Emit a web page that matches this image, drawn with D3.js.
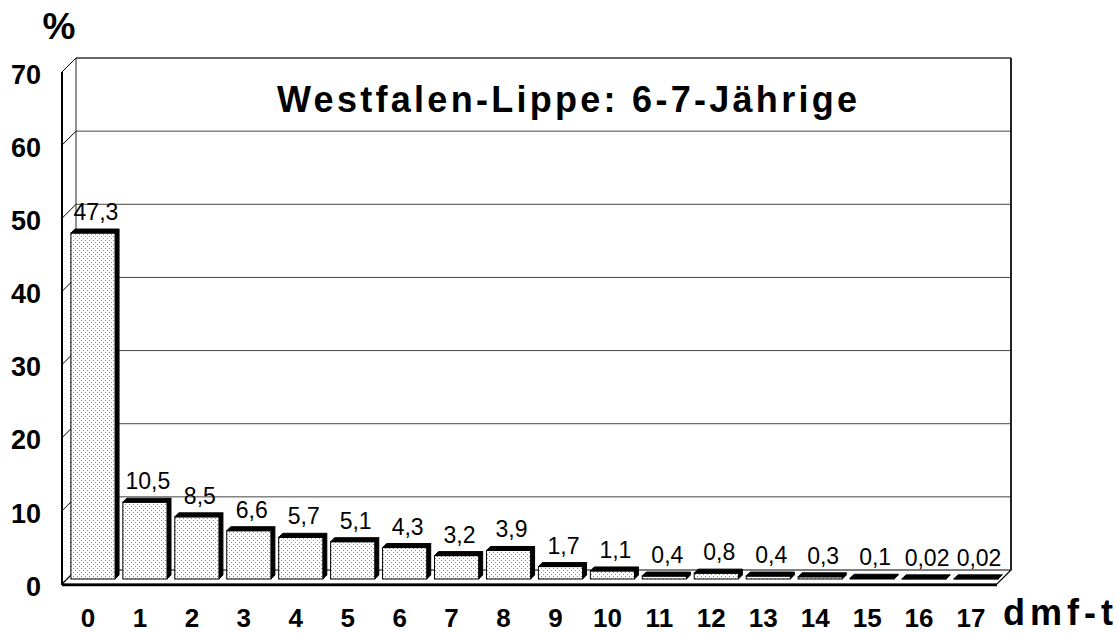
<!DOCTYPE html>
<html>
<head>
<meta charset="utf-8">
<script src="https://cdn.jsdelivr.net/npm/d3@7"></script>
<style>
  html, body { margin: 0; padding: 0; background: #fff; }
  svg { display: block; font-family: "Liberation Sans", Arial, sans-serif; }
</style>
</head>
<body>
<svg id="chart" width="1118" height="634"></svg>
<script>
const categories = ["0","1","2","3","4","5","6","7","8","9","10","11","12","13","14","15","16","17"];
const values = [47.3, 10.5, 8.5, 6.6, 5.7, 5.1, 4.3, 3.2, 3.9, 1.7, 1.1, 0.4, 0.8, 0.4, 0.3, 0.1, 0.02, 0.02];
const yTicks = [0, 10, 20, 30, 40, 50, 60, 70];
const title = "Westfalen-Lippe: 6-7-Jährige";
const yUnit = "%";
const xTitle = "dmf-t";

const svg = d3.select("#chart");

// geometry
const left = 62, right = 997;
const ddx = 14, ddy = -14;           // depth of the wall/floor
const barOff = 5;                    // bars sit slightly behind the front plane
const barDepth = 4;

const x = d3.scaleBand().domain(categories).range([left, right]).padding(0);
const y = d3.scaleLinear().domain([0, 70]).range([584, 72]);

const defs = svg.append("defs");
const pat = defs.append("pattern").attr("id", "dots")
  .attr("patternUnits", "userSpaceOnUse").attr("width", 4).attr("height", 4);
pat.append("rect").attr("width", 4).attr("height", 4).attr("fill", "#fff");
pat.append("rect").attr("x", 1).attr("y", 0).attr("width", 1).attr("height", 1).attr("fill", "#8a8a8a");
pat.append("rect").attr("x", 3).attr("y", 2).attr("width", 1).attr("height", 1).attr("fill", "#8a8a8a");

const g = svg.append("g");

// floor
const y0 = y(0);
g.append("polygon")
  .attr("points", [[left, y0], [left + ddx, y0 + ddy], [right + ddx, y0 + ddy], [right, y0]].map(p => p.join(",")).join(" "))
  .attr("fill", "#fff").attr("stroke", "#000").attr("stroke-width", 1.2);
g.append("line").attr("x1", left).attr("x2", right).attr("y1", y0 + 1).attr("y2", y0 + 1)
  .attr("stroke", "#000").attr("stroke-width", 2.5);

// back wall gridlines
g.selectAll("line.grid").data(yTicks.filter(t => t > 0)).join("line")
  .attr("class", "grid")
  .attr("x1", left + ddx).attr("x2", right + ddx)
  .attr("y1", d => y(d) + ddy).attr("y2", d => y(d) + ddy)
  .attr("stroke", d => d === 70 ? "#333" : "#444").attr("stroke-width", d => d === 70 ? 1.5 : 1);

// back wall left & right edges
g.append("line").attr("x1", left + ddx).attr("x2", left + ddx)
  .attr("y1", y(70) + ddy).attr("y2", y0 + ddy).attr("stroke", "#222").attr("stroke-width", 1);
g.append("line").attr("x1", right + ddx).attr("x2", right + ddx)
  .attr("y1", y(70) + ddy).attr("y2", y0 + ddy).attr("stroke", "#222").attr("stroke-width", 2);

// side wall: front axis + tick diagonals
g.append("line").attr("x1", left).attr("x2", left)
  .attr("y1", y(70)).attr("y2", y0 + 1).attr("stroke", "#000").attr("stroke-width", 2);
g.selectAll("line.diag").data(yTicks).join("line")
  .attr("class", "diag")
  .attr("x1", left).attr("x2", left + ddx)
  .attr("y1", d => y(d)).attr("y2", d => y(d) + ddy)
  .attr("stroke", "#000").attr("stroke-width", 1);

// bars
const bw = x.bandwidth() * 0.85;
const rows = values.map((v, i) => ({ v, c: categories[i] }));
const bars = g.selectAll("g.bar").data(rows).join("g").attr("class", "bar");
bars.each(function (d) {
  const sel = d3.select(this);
  const x0 = x(d.c) + (x.bandwidth() - bw) / 2 + barOff;
  const bot = y(0) - barOff;
  const top = y(d.v) - barOff;
  sel.append("polygon")
    .attr("points", [[x0 + bw, top], [x0 + bw + barDepth, top - barDepth], [x0 + bw + barDepth, bot - barDepth], [x0 + bw, bot]].map(p => p.join(",")).join(" "))
    .attr("fill", "#000").attr("stroke", "#000").attr("stroke-width", 1);
  sel.append("rect").attr("x", x0).attr("y", top).attr("width", bw).attr("height", Math.max(0, bot - top))
    .attr("fill", "url(#dots)").attr("stroke", "#000").attr("stroke-width", 1);
  sel.append("polygon")
    .attr("points", [[x0, top], [x0 + barDepth, top - barDepth], [x0 + bw + barDepth, top - barDepth], [x0 + bw, top]].map(p => p.join(",")).join(" "))
    .attr("fill", "#000").attr("stroke", "#000").attr("stroke-width", 1);
});

// value labels
g.selectAll("text.val").data(rows).join("text")
  .attr("class", "val")
  .attr("x", d => x(d.c) + x.bandwidth() / 2 + 8)
  .attr("y", d => y(d.v) - barOff - 13)
  .attr("text-anchor", "middle")
  .attr("font-size", 23)
  .attr("fill", "#000")
  .text(d => String(d.v).replace(".", ","));

// y tick labels
g.selectAll("text.ytick").data(yTicks).join("text")
  .attr("class", "ytick")
  .attr("x", 41).attr("y", d => y(d) + 2)
  .attr("dy", "0.36em")
  .attr("text-anchor", "end")
  .attr("font-size", 27).attr("font-weight", "bold")
  .text(d => d);

// x tick labels
g.selectAll("text.xtick").data(categories).join("text")
  .attr("class", "xtick")
  .attr("x", d => x(d) + x.bandwidth() / 2).attr("y", 627)
  .attr("text-anchor", "middle")
  .attr("font-size", 26).attr("font-weight", "bold")
  .text(d => d);

// title
svg.append("text").attr("x", 567).attr("y", 112)
  .attr("text-anchor", "middle")
  .attr("font-size", 36).attr("font-weight", "bold")
  .attr("textLength", 580).attr("lengthAdjust", "spacing")
  .text(title);

// % unit
svg.append("text").attr("x", 59).attr("y", 39)
  .attr("text-anchor", "middle")
  .attr("font-size", 37).attr("font-weight", "bold")
  .text(yUnit);

// x axis title
svg.append("text").attr("x", 1003).attr("y", 625)
  .attr("font-size", 36).attr("font-weight", "bold")
  .attr("textLength", 110).attr("lengthAdjust", "spacing")
  .text(xTitle);
</script>
</body>
</html>
